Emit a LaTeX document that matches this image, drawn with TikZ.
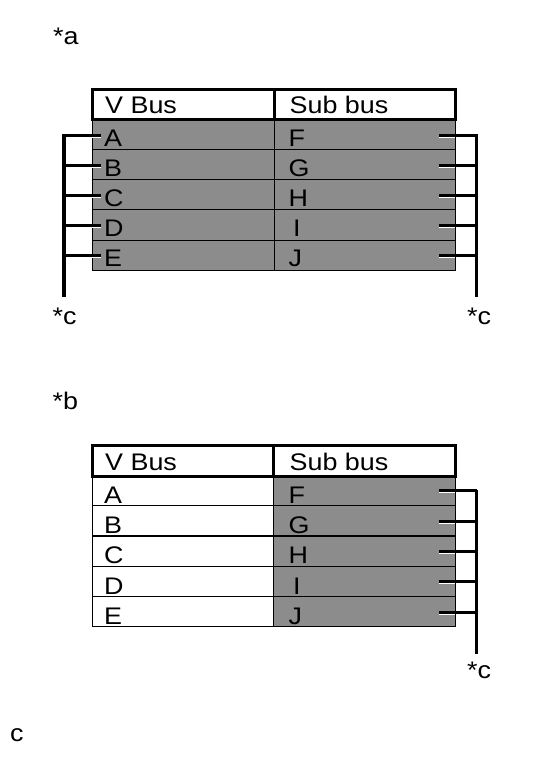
\documentclass[tikz,border=0pt]{standalone}
\usepackage{fontspec}
\setmainfont[FakeStretch=1.12]{Liberation Sans}
\definecolor{cellgray}{RGB}{140,140,140}
\begin{document}
\begin{tikzpicture}[x=1pt,y=-1pt,
  font=\fontsize{24pt}{28pt}\selectfont,
  cellbox/.style={draw=black, line width=1pt, inner sep=0pt, outer sep=0pt, anchor=north west, minimum height=30pt},
  graycell/.style={cellbox, fill=cellgray},
  whitecell/.style={cellbox, fill=white},
  hdrcell/.style={draw=black, line width=3pt, fill=white, inner sep=0pt, outer sep=0pt, anchor=north west, minimum height=30.5pt},
  lbl/.style={inner sep=0pt, anchor=base west},
  busline/.style={line width=3.2pt},
  stubline/.style={line width=3pt},
  glint/.style={white, line width=1pt}
]
\useasboundingbox (0,0) rectangle (558,759);

% ---------------- labels ----------------
\node[lbl] (la) at (53,45) {*a};
\node[lbl] (lb) at (52.5,409.3) {*b};
\node[lbl] (lc) at (10,741) {c};

% ---------------- table a ----------------
\foreach \i/\l/\r in {1/A/F,2/B/G,3/C/H,4/D/I,5/E/J}{
  \node[graycell, minimum width=182pt] (aL\i) at (92,{120+30*(\i-1)}) {};
  \node[graycell, minimum width=181pt] (aR\i) at (274,{120+30*(\i-1)}) {};
}
\node[hdrcell, minimum width=182pt] (aHL) at (92,89.5) {};
\node[hdrcell, minimum width=181pt] (aHR) at (274,89.5) {};
\node[lbl] (taHL) at (105,113.3) {V Bus};
\node[lbl] (taHR) at (289.5,113.3) {Sub bus};
\foreach \i/\l/\r/\rx in {1/A/F/288.5,2/B/G/288.5,3/C/H/288.5,4/D/I/293,5/E/J/288.5}{
  \node[lbl] (taL\i) at (104,{146.8+30*(\i-1)}) {\l};
  \node[lbl] (taR\i) at (\rx,{146.8+30*(\i-1)}) {\r};
}
% buses of table a
\coordinate (aBusL) at (64,134.3);
\coordinate (aBusLend) at (64,297);
\coordinate (aBusR) at (476.7,134.3);
\coordinate (aBusRend) at (476.7,297);
\draw[busline] (aBusL) -- (aBusLend);
\draw[busline] (aBusR) -- (aBusRend);
\foreach \i in {1,...,5}{
  \draw[stubline] ([xshift=9pt,yshift=-0.8pt]aL\i.west) -- ([yshift=-0.8pt]aL\i.west -| aBusL);
  \draw[glint] ([yshift=-2.8pt]aL\i.west) -- ([xshift=9pt,yshift=-2.8pt]aL\i.west);
  \draw[stubline] ([xshift=-16pt,yshift=-0.3pt]aR\i.east) -- ([yshift=-0.3pt]aR\i.east -| aBusR);
  \draw[glint] ([xshift=-16pt,yshift=-2.3pt]aR\i.east) -- ([yshift=-2.3pt]aR\i.east);
}
\node[lbl] (lca1) at (52.5,324) {*c};
\node[lbl] (lca2) at (467,324) {*c};

% ---------------- table b ----------------
\foreach \i in {1,...,5}{
  \node[whitecell, minimum width=181.5pt] (bL\i) at (92,{475.5+30.3*(\i-1)}) {};
  \node[graycell, minimum width=181.5pt] (bR\i) at (273.5,{475.5+30.3*(\i-1)}) {};
}
\node[hdrcell, minimum width=181.5pt] (bHL) at (92,445.5) {};
\node[hdrcell, minimum width=181.5pt] (bHR) at (273.5,445.5) {};
\node[lbl] (tbHL) at (105,470) {V Bus};
\node[lbl] (tbHR) at (289.5,470) {Sub bus};
\foreach \i/\l/\r/\rx in {1/A/F/288.5,2/B/G/288.5,3/C/H/288.5,4/D/I/293,5/E/J/288.5}{
  \node[lbl] (tbL\i) at (104,{503.3+30.3*(\i-1)}) {\l};
  \node[lbl] (tbR\i) at (\rx,{503.3+30.3*(\i-1)}) {\r};
}
\coordinate (bBusR) at (476.7,490);
\coordinate (bBusRend) at (476.7,653.5);
\draw[busline] (bBusR) -- (bBusRend);
\foreach \i in {1,...,5}{
  \draw[stubline] ([xshift=-16pt,yshift=-0.3pt]bR\i.east) -- ([yshift=-0.3pt]bR\i.east -| bBusR);
  \draw[glint] ([xshift=-16pt,yshift=-2.3pt]bR\i.east) -- ([yshift=-2.3pt]bR\i.east);
}
\node[lbl] (lcb) at (467,678.3) {*c};
\end{tikzpicture}
\end{document}
